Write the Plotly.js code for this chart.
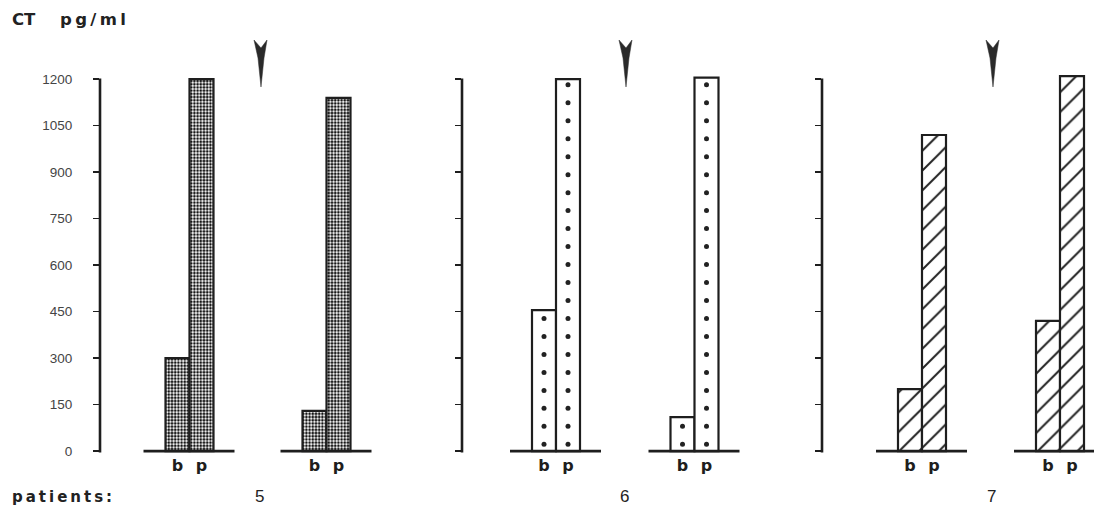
<!DOCTYPE html>
<html><head><meta charset="utf-8">
<script src="https://cdn.plot.ly/plotly-3.0.1.min.js"></script>
<style>html,body{margin:0;padding:0;background:#fff}#chart{width:1094px;height:513px}</style>
</head><body><div id="chart"></div>
<script>
// ---- data (CT, pg/ml) ----
const patients = ['5', '6', '7'];
const barLabels = ['b', 'p'];
const basal5 = [300, 130];
const peak5 = [1200, 1140];
const basal6 = [455, 110];
const peak6 = [1200, 1205];
const basal7 = [200, 420];
const peak7 = [1020, 1210];
const yTicks = [0, 150, 300, 450, 600, 750, 900, 1050, 1200];

// ---- layout geometry ----
const W = 1094, H = 513, ML = 100, MR = 0, MT = 73, MB = 60;
const PW = W - ML - MR, PH = H - MT - MB;
const Y0 = -6, Y1 = 1220;
const panelPx = [[100, 440], [462, 800], [822, 1094]];
const groupCenters = [[77.5, 214.5], [82, 220.5], [88, 226]];
const BW = 24;
const ink = '#1e1e1e';
const basal = [basal5, basal6, basal7];
const peak = [peak5, peak6, peak7];
// sparse dot texture of patient 6 (in axis units: first row and row step)
const dotStart = 22, dotStep = 58;

function pxX(x) { return (x - ML) / PW; }
function pxY(y) { return (H - MB - y) / PH; }
function valY(v) { return (v - Y0) / (Y1 - Y0); }

const traces = [];
const layout = {
  width: W, height: H,
  margin: {l: ML, r: MR, t: MT, b: MB, pad: 0},
  paper_bgcolor: '#fff', plot_bgcolor: '#fff',
  showlegend: false, bargap: 0,
  font: {family: 'Liberation Sans, Arial, sans-serif', color: ink},
  shapes: [], annotations: []
};

for (let i = 0; i < 3; i++) {
  const sfx = i === 0 ? '' : String(i + 1);
  const xs = [], ys = [], tv = [], tt = [];
  for (let g = 0; g < 2; g++) {
    const c = groupCenters[i][g];
    xs.push(c, c + BW);
    ys.push(basal[i][g], peak[i][g]);
    tv.push(c, c + BW);
    tt.push(barLabels[0], barLabels[1]);
    layout.shapes.push({type: 'line', xref: 'x' + sfx, yref: 'y' + sfx,
      x0: c - 34, x1: c + 57, y0: 0, y1: 0, line: {color: ink, width: 2.6}});
  }
  let pattern = null;
  if (i === 0) {
    pattern = {shape: '.', size: 3.2, solidity: 0.55, fgcolor: '#151515', bgcolor: '#fff', fillmode: 'replace'};
  } else if (i === 2) {
    pattern = {shape: '/', size: 14, solidity: 0.14, fgcolor: '#222', bgcolor: '#fff', fillmode: 'replace'};
  }
  const marker = {color: '#fff', line: {color: ink, width: 2.2}};
  if (pattern) marker.pattern = pattern;
  traces.push({
    type: 'bar', x: xs, y: ys, width: BW, xaxis: 'x' + sfx, yaxis: 'y' + sfx,
    hoverinfo: 'skip', marker: marker
  });
  if (i === 1) {
    const dx = [], dy = [];
    xs.forEach((c, k) => {
      for (let v = dotStart; v < ys[k] - 10; v += dotStep) { dx.push(c); dy.push(v); }
    });
    traces.push({type: 'scatter', mode: 'markers', x: dx, y: dy, xaxis: 'x2', yaxis: 'y2',
      hoverinfo: 'skip', marker: {size: 5, color: '#222', symbol: 'circle'}});
  }
  const [p0, p1] = panelPx[i];
  layout['xaxis' + sfx] = {
    domain: [pxX(p0), pxX(p1)], range: [0, p1 - p0], anchor: 'y' + sfx,
    showline: false, showgrid: false, zeroline: false, ticks: '',
    tickmode: 'array', tickvals: tv, ticktext: tt, ticklabelstandoff: 1,
    tickfont: {size: 16, weight: 'bold', color: ink, family: 'DejaVu Sans, sans-serif'},
    fixedrange: true
  };
  layout['yaxis' + sfx] = {
    domain: [0, 1], range: [Y0, Y1], anchor: 'x' + sfx,
    showline: false, showgrid: false, zeroline: false,
    ticks: 'outside', ticklen: 6, tickwidth: 1.5, tickcolor: ink,
    tickmode: 'array', tickvals: yTicks, ticktext: yTicks.map(String),
    showticklabels: i === 0, ticklabelstandoff: 18,
    tickfont: {size: 13.5, color: '#444', family: 'Liberation Sans, Arial, sans-serif'},
    fixedrange: true
  };
  // vertical axis line, ending at the top tick
  layout.shapes.push({type: 'line', xref: 'paper', yref: 'paper',
    x0: pxX(p0), x1: pxX(p0), y0: valY(-4), y1: valY(yTicks[yTicks.length - 1]) + 0.002,
    line: {color: ink, width: 2.6}});
}

// arrowheads
const arrowX = [261, 626, 993];
arrowX.forEach(cx => {
  const pts = [[cx - 7, 40], [cx, 48], [cx + 6, 40], [cx + 3, 58], [cx, 87], [cx - 3, 58]];
  const d = 'M' + pts.map(p => pxX(p[0]).toFixed(5) + ',' + pxY(p[1]).toFixed(5)).join('L') + 'Z';
  layout.shapes.push({type: 'path', xref: 'paper', yref: 'paper', path: d,
    fillcolor: '#2a2a2a', line: {color: '#2a2a2a', width: 0.5}});
});

// texts
const ts = '\u2009';
layout.annotations.push({xref: 'paper', yref: 'paper', x: pxX(10), y: pxY(20), xanchor: 'left', yanchor: 'middle',
  showarrow: false, text: 'CT' + '\u2003\u2002' + ['p','g','/','m','l'].join(ts),
  font: {size: 16.5, weight: 'bold', color: '#222', family: 'DejaVu Sans, sans-serif'}});
layout.annotations.push({xref: 'paper', yref: 'paper', x: pxX(10), y: pxY(497), xanchor: 'left', yanchor: 'middle',
  showarrow: false, text: 'patients:'.split('').join(ts),
  font: {size: 15, weight: 'bold', color: '#222', family: 'DejaVu Sans, sans-serif'}});
patients.forEach((p, k) => {
  layout.annotations.push({xref: 'paper', yref: 'paper', x: pxX(arrowX[k] - 2), y: pxY(497), xanchor: 'center', yanchor: 'middle',
    showarrow: false, text: p, font: {size: 17, color: '#222', family: 'Liberation Sans, Arial, sans-serif'}});
});

Plotly.newPlot('chart', traces, layout, {displayModeBar: false, staticPlot: true});
</script>
</body></html>
